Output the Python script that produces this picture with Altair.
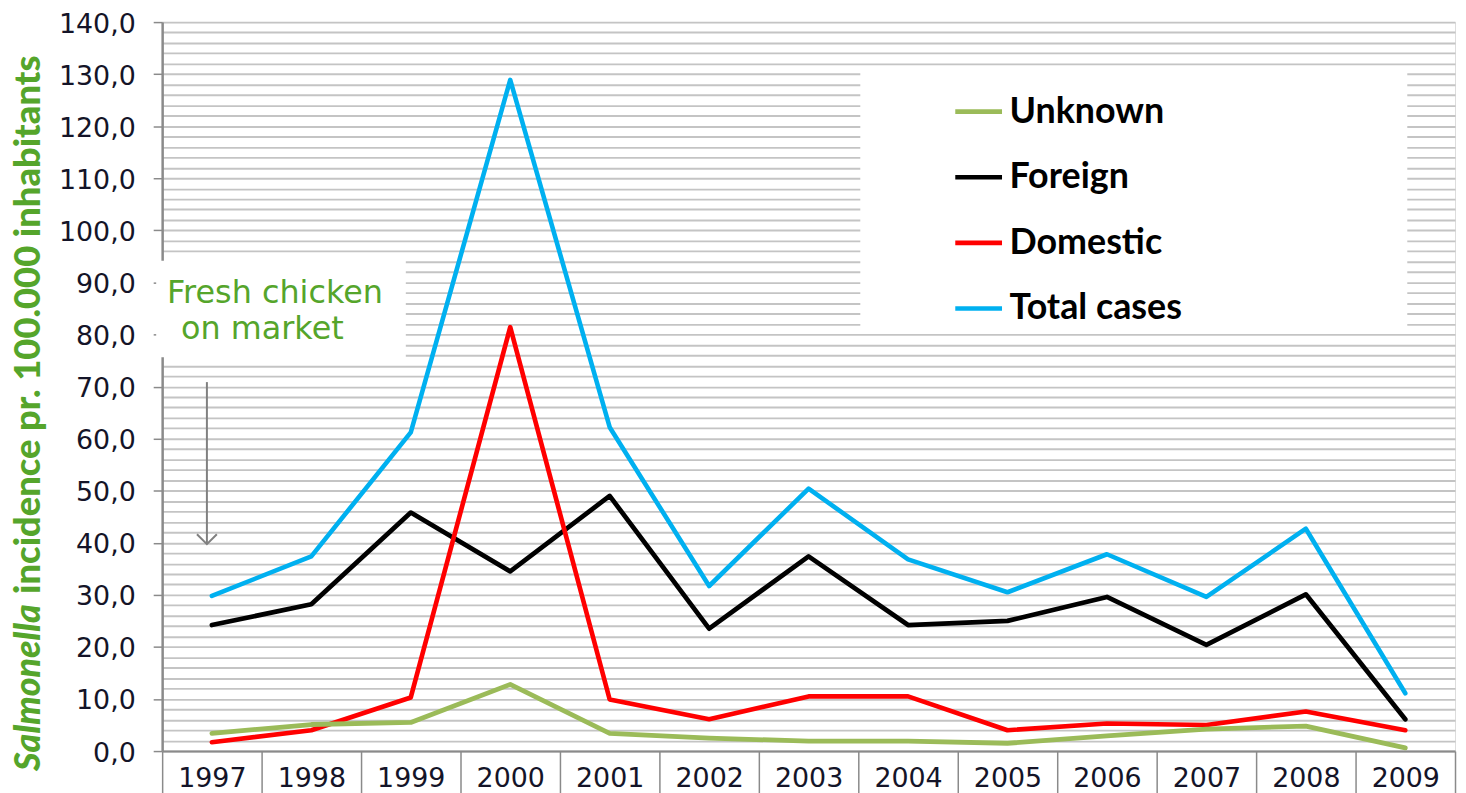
import altair as alt
import pandas as pd

years = ["1997", "1998", "1999", "2000", "2001", "2002", "2003",
         "2004", "2005", "2006", "2007", "2008", "2009"]
total_cases = [29.8, 37.4, 61.2, 128.9, 62.2, 31.7, 50.4, 36.8, 30.5, 37.8, 29.6, 42.7, 11.1]
foreign = [24.2, 28.2, 45.8, 34.5, 49.0, 23.5, 37.4, 24.2, 25.0, 29.6, 20.4, 30.1, 6.1]
domestic = [1.7, 4.0, 10.3, 81.4, 9.9, 6.1, 10.5, 10.5, 4.0, 5.3, 5.0, 7.6, 4.0]
unknown = [3.4, 5.1, 5.5, 12.8, 3.4, 2.5, 1.9, 1.9, 1.5, 2.9, 4.2, 4.8, 0.6]

legend_order = ["Unknown", "Foreign", "Domestic", "Total cases"]
series_colors = ["#9BBB59", "#000000", "#FF0000", "#00B0F0"]
series_widths = [4.8, 4.6, 2.8, 4.2]

# drawing order: total at the back, unknown in front
rows = []
for name, vals in [("Total cases", total_cases), ("Foreign", foreign),
                   ("Domestic", domestic), ("Unknown", unknown)]:
    for y, v in zip(years, vals):
        rows.append({"year": y, "series": name, "value": v})
df = pd.DataFrame(rows)

GREEN = "#55A52B"
W, H = 1300, 733

x_axis = alt.Axis(title=None, labelAngle=0, labelFont="DejaVu Sans", labelFontSize=27,
                  labelColor="#141428", tickBand="extent", tickSize=45, tickColor="#8a8a8a",
                  tickWidth=1.5, domainColor="#8a8a8a", domainWidth=2, labelPadding=-30,
                  grid=False, labelOverlap=False)
y_axis = alt.Axis(title=None, values=list(range(0, 141, 2)),
                  labelExpr="datum.value % 10 === 0 ? replace(format(datum.value, '.1f'), '.', ',') : ''",
                  labelFont="DejaVu Sans", labelFontSize=27, labelColor="#141428",
                  labelPadding=18, labelOffset=2, tickSize=9, tickColor="#8a8a8a", tickWidth=1.5,
                  tickOpacity={"condition": {"test": "datum.value % 10 === 0", "value": 1}, "value": 0},
                  domainColor="#8a8a8a", domainWidth=2.5, grid=True, gridColor="#c4c4c4",
                  gridWidth=1.9, labelOverlap=False)

ann = pd.DataFrame({"a": [0]})

boxes = alt.Chart(ann).mark_rect(color="white").encode(
    x=alt.value(702), x2=alt.value(1252), y=alt.value(45), y2=alt.value(307))
box2 = alt.Chart(ann).mark_rect(color="white").encode(
    x=alt.value(-6), x2=alt.value(245), y=alt.value(240), y2=alt.value(337))

lines = alt.Chart(df).mark_line(strokeJoin="round", strokeCap="round").encode(
    x=alt.X("year:N", sort=years, scale=alt.Scale(paddingInner=0, paddingOuter=0), axis=x_axis),
    y=alt.Y("value:Q", scale=alt.Scale(domain=[0, 140], nice=False), axis=y_axis),
    color=alt.Color("series:N", sort=legend_order,
                    scale=alt.Scale(domain=legend_order, range=series_colors),
                    legend=alt.Legend(orient="none", legendX=795, legendY=64, title=None,
                                      symbolType="stroke", symbolSize=2209, symbolStrokeWidth=4.5,
                                      labelFont="Lato", labelFontSize=36, labelFontWeight="bold",
                                      labelColor="black", rowPadding=22, labelOffset=5,
                                      padding=0, labelLimit=500)),
    strokeWidth=alt.StrokeWidth("series:N", scale=alt.Scale(domain=legend_order, range=series_widths),
                                legend=None),
)

title1 = alt.Chart(ann).mark_text(text="Salmonella", angle=270, align="left", baseline="alphabetic",
                                  font="Lato", fontSize=36, fontWeight=900, fontStyle="italic",
                                  color=GREEN).encode(x=alt.value(-123), y=alt.value(753))
title2 = alt.Chart(ann).mark_text(text=" incidence pr. 100.000 inhabitants", angle=270, align="left",
                                  baseline="alphabetic", font="Lato", fontSize=36.5, fontWeight=900,
                                  color=GREEN).encode(x=alt.value(-123), y=alt.value(575))

fc1 = alt.Chart(ann).mark_text(text="Fresh chicken", align="left", baseline="alphabetic",
                               font="DejaVu Sans", fontSize=32, color=GREEN).encode(
    x=alt.value(5), y=alt.value(282))
fc2 = alt.Chart(ann).mark_text(text="on market", align="left", baseline="alphabetic",
                               font="DejaVu Sans", fontSize=32, color=GREEN).encode(
    x=alt.value(19), y=alt.value(319))

arrow_shaft = alt.Chart(ann).mark_rule(color="#808080", strokeWidth=2).encode(
    x=alt.value(45), y=alt.value(362), y2=alt.value(524))
arrow_head = alt.Chart(ann).mark_point(shape="M-1,-1L0,0L1,-1", filled=False, color="#808080",
                                       strokeWidth=2, size=400, opacity=1).encode(
    x=alt.value(45), y=alt.value(525))

chart = alt.layer(boxes, box2, lines, title1, title2, fc1, fc2, arrow_shaft, arrow_head).properties(
    width=W, height=H,
    autosize=alt.AutoSizeParams(type="none"),
    padding={"left": 155, "top": 12, "right": 3, "bottom": 40},
).configure_view(stroke=None).configure(background="white")

chart.save("out.html", embed_options={"renderer": "svg", "actions": False})
